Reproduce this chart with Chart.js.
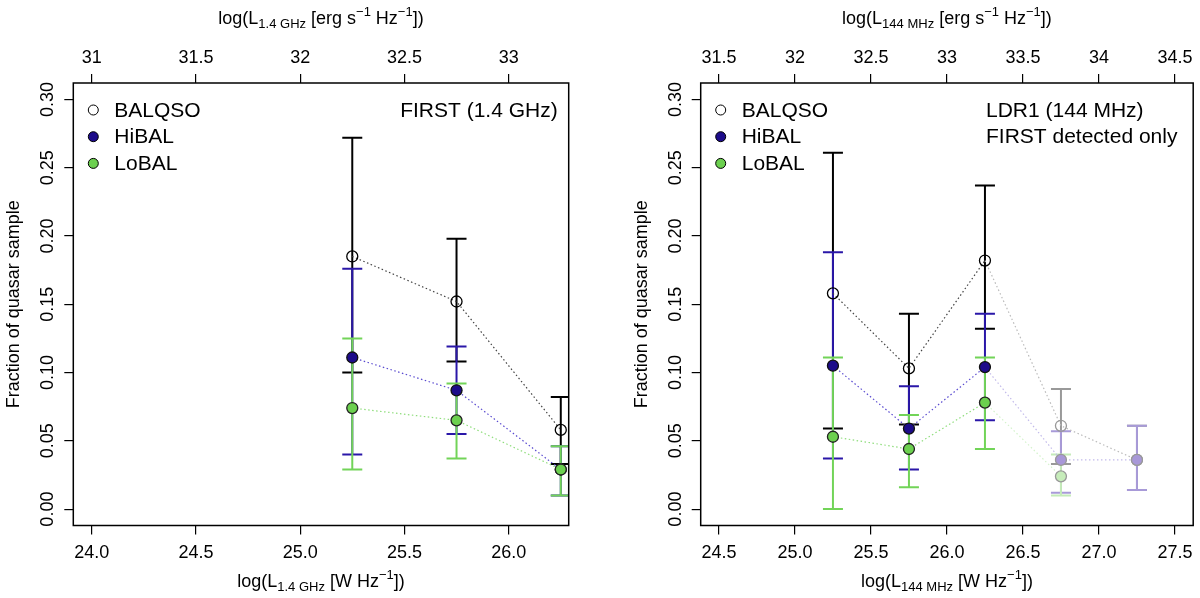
<!DOCTYPE html>
<html>
<head>
<meta charset="utf-8">
<script src="https://cdn.jsdelivr.net/npm/chart.js@4.4.1/dist/chart.umd.min.js"></script>
<style>
  html, body { margin: 0; padding: 0; background: #fff; }
  canvas { position: absolute; top: 0; }
  #first { left: 0; }
  #ldr { left: 600px; }
</style>
</head>
<body>
<canvas id="first" width="600" height="598"></canvas>
<canvas id="ldr" width="600" height="598"></canvas>
<script>
// ---- data ----
var seriesNames = ['BALQSO', 'HiBAL', 'LoBAL'];
var fracTicks = [0.00, 0.05, 0.10, 0.15, 0.20, 0.25, 0.30];

// FIRST 1.4 GHz panel
var firstBins = [25.25, 25.75, 26.25];
var firstBal = [0.185, 0.152, 0.058];
var firstBalLo = [0.100, 0.108, 0.033];
var firstBalHi = [0.272, 0.198, 0.082];
var firstHi = [0.111, 0.087, 0.029];
var firstHiLo = [0.040, 0.055, 0.010];
var firstHiHi = [0.176, 0.119, 0.046];
var firstLo = [0.074, 0.065, 0.029];
var firstLoLo = [0.029, 0.037, 0.010];
var firstLoHi = [0.125, 0.092, 0.046];
var firstTicks = [24.0, 24.5, 25.0, 25.5, 26.0];
var firstTopTicks = [31, 31.5, 32, 32.5, 33];

// LDR1 144 MHz panel (last two bins have few objects, drawn faint)
var ldrBins = [25.25, 25.75, 26.25, 26.75, 27.25];
var ldrBal = [0.158, 0.103, 0.182, 0.061, 0.036];
var ldrBalLo = [0.059, 0.062, 0.132, 0.033, 0.014];
var ldrBalHi = [0.261, 0.143, 0.237, 0.088, 0.061];
var ldrHi = [0.105, 0.059, 0.104, 0.036, 0.036];
var ldrHiLo = [0.037, 0.029, 0.065, 0.012, 0.014];
var ldrHiHi = [0.188, 0.090, 0.143, 0.057, 0.061];
var ldrLo = [0.053, 0.044, 0.078, 0.024, null];
var ldrLoLo = [0.000, 0.016, 0.044, 0.010, null];
var ldrLoHi = [0.111, 0.069, 0.111, 0.040, null];
var ldrFaint = [false, false, false, true, true];
var ldrTicks = [24.5, 25.0, 25.5, 26.0, 26.5, 27.0, 27.5];
var ldrTopTicks = [31.5, 32, 32.5, 33, 33.5, 34, 34.5];

// ---- styling ----
var FONT = '"Liberation Sans", Arial, Helvetica, sans-serif';
var styles = [
  { fill: 'rgba(0,0,0,0)', edge: '#000000', bar: '#000000', line: '#444444',
    fFill: 'rgba(0,0,0,0)', fEdge: '#999999', fBar: '#999999', fLine: '#bbbbbb', key: '#ffffff' },
  { fill: '#1d0c8a', edge: '#111111', bar: '#2a17a8', line: '#5a4bd0',
    fFill: '#a898d8', fEdge: '#999999', fBar: '#a89ad8', fLine: '#c2baea', key: '#1d0c8a' },
  { fill: '#6cd04f', edge: '#222222', bar: '#72d458', line: '#8fdd7c',
    fFill: '#c6ecba', fEdge: '#999999', fBar: '#c4ebb8', fLine: '#d4f2cc', key: '#6cd04f' }
];

function pad(range) {
  var d = (range[1] - range[0]) * 0.04;
  return [range[0] - d, range[1] + d];
}

function drawRich(ctx, parts, cx, y) {
  var total = 0;
  parts.forEach(function (p) {
    ctx.font = p.size + 'px ' + FONT;
    p.w = ctx.measureText(p.t).width;
    total += p.w;
  });
  var x = cx - total / 2;
  ctx.textAlign = 'left';
  ctx.textBaseline = 'alphabetic';
  parts.forEach(function (p) {
    ctx.font = p.size + 'px ' + FONT;
    ctx.fillText(p.t, x, y + (p.dy || 0));
    x += p.w;
  });
}

function titleParts(sub, unit) {
  var parts = [{ t: 'log(L', size: 18 }, { t: sub, size: 13, dy: 4 }];
  if (unit === 'erg') {
    parts.push({ t: ' [erg s', size: 18 }, { t: '\u22121', size: 13, dy: -8 },
               { t: ' Hz', size: 18 }, { t: '\u22121', size: 13, dy: -8 }, { t: '])', size: 18 });
  } else {
    parts.push({ t: ' [W Hz', size: 18 }, { t: '\u22121', size: 13, dy: -8 }, { t: '])', size: 18 });
  }
  return parts;
}

var rPlugin = {
  id: 'rstyle',
  beforeDatasetsDraw: function (chart) {
    var ctx = chart.ctx, xs = chart.scales.x, ys = chart.scales.y, a = chart.chartArea;
    ctx.save();
    ctx.beginPath();
    ctx.rect(a.left, a.top, a.right - a.left, a.bottom - a.top);
    ctx.clip();
    chart.data.datasets.forEach(function (ds, si) {
      var st = styles[si];
      ds.data.forEach(function (pt, i) {
        if (pt.y === null) return;
        var px = xs.getPixelForValue(pt.x);
        var yl = ys.getPixelForValue(ds.errLo[i]);
        var yh = ys.getPixelForValue(ds.errHi[i]);
        ctx.strokeStyle = ds.faint[i] ? st.fBar : st.bar;
        ctx.lineWidth = 2;
        ctx.beginPath();
        ctx.moveTo(px, yl); ctx.lineTo(px, yh);
        ctx.moveTo(px - 10, yl); ctx.lineTo(px + 10, yl);
        ctx.moveTo(px - 10, yh); ctx.lineTo(px + 10, yh);
        ctx.stroke();
      });
    });
    ctx.restore();
  },
  afterDraw: function (chart) {
    var o = chart.options.plugins.rstyle;
    var ctx = chart.ctx, a = chart.chartArea;
    var xs = chart.scales.x, x2 = chart.scales.x2, ys = chart.scales.y;
    ctx.save();
    ctx.strokeStyle = '#000';
    ctx.lineWidth = 1.5;
    ctx.strokeRect(a.left, a.top, a.right - a.left, a.bottom - a.top);

    ctx.fillStyle = '#000';
    ctx.font = '18px ' + FONT;
    ctx.textAlign = 'center';
    ctx.textBaseline = 'alphabetic';
    o.bottomTicks.forEach(function (v) {
      ctx.fillText(v.toFixed(1), xs.getPixelForValue(v), 558);
    });
    o.topTicks.forEach(function (v) {
      ctx.fillText(String(v), x2.getPixelForValue(v), 63);
    });
    fracTicks.forEach(function (v) {
      ctx.save();
      ctx.translate(a.left - 20, ys.getPixelForValue(v));
      ctx.rotate(-Math.PI / 2);
      ctx.fillText(v.toFixed(2), 0, 0);
      ctx.restore();
    });

    // axis titles
    var cx = (a.left + a.right) / 2;
    drawRich(ctx, titleParts(o.sub, 'W'), cx, 587);
    drawRich(ctx, titleParts(o.sub, 'erg'), cx, 24);
    ctx.save();
    ctx.translate(a.left - 54, (a.top + a.bottom) / 2);
    ctx.rotate(-Math.PI / 2);
    ctx.font = '18px ' + FONT;
    ctx.textAlign = 'center';
    ctx.fillText('Fraction of quasar sample', 0, 0);
    ctx.restore();

    // legend
    ctx.font = '21px ' + FONT;
    ctx.textBaseline = 'middle';
    ctx.textAlign = 'left';
    seriesNames.forEach(function (name, i) {
      var yy = a.top + 27 + i * 26.7;
      ctx.beginPath();
      ctx.arc(a.left + 20, yy, 5, 0, Math.PI * 2);
      ctx.fillStyle = styles[i].key;
      ctx.fill();
      ctx.lineWidth = 1;
      ctx.strokeStyle = '#000';
      ctx.stroke();
      ctx.fillStyle = '#000';
      ctx.fillText(name, a.left + 41, yy + 1);
    });

    // survey label
    if (o.noteAlign === 'right') {
      ctx.textAlign = 'right';
      o.note.forEach(function (t, i) { ctx.fillText(t, a.right - 11, a.top + 28 + i * 26.7); });
    } else {
      ctx.textAlign = 'left';
      o.note.forEach(function (t, i) { ctx.fillText(t, o.noteX, a.top + 28 + i * 26.7); });
    }
    ctx.restore();
  }
};

function makeSet(si, bins, vals, lo, hi, faint) {
  var st = styles[si];
  return {
    label: seriesNames[si],
    data: bins.map(function (b, i) { return { x: b, y: vals[i] }; }),
    errLo: lo, errHi: hi, faint: faint,
    order: 2 - si,
    showLine: true,
    borderWidth: 1.2,
    borderDash: [1.5, 2.5],
    borderColor: st.line,
    segment: {
      borderColor: function (c) { return faint[c.p1DataIndex] ? st.fLine : st.line; }
    },
    pointRadius: 5.5,
    pointHoverRadius: 5.5,
    pointBorderWidth: 1.3,
    pointBackgroundColor: function (c) { return faint[c.dataIndex] ? st.fFill : st.fill; },
    pointBorderColor: function (c) { return faint[c.dataIndex] ? st.fEdge : st.edge; }
  };
}

function axisTicks(list) {
  return function (s) { s.ticks = list.map(function (v) { return { value: v }; }); };
}

function makePanel(id, p) {
  var xr = pad(p.xRange), yr = pad([0, 0.3]);
  var tickGrid = { drawOnChartArea: false, drawTicks: true, tickLength: 9, color: '#000', tickColor: '#000', lineWidth: 1.2 };
  return new Chart(document.getElementById(id).getContext('2d'), {
    type: 'scatter',
    data: { datasets: p.sets },
    options: {
      responsive: false,
      animation: false,
      layout: { padding: { left: 0, right: p.padRight, top: 0, bottom: 0 } },
      scales: {
        x: { type: 'linear', position: 'bottom', min: xr[0], max: xr[1],
             afterBuildTicks: axisTicks(p.bottomTicks), afterFit: function (s) { s.height = 72.5; },
             grid: tickGrid, border: { display: false }, ticks: { display: false } },
        x2: { type: 'linear', position: 'top', min: xr[0] + 7, max: xr[1] + 7,
              afterBuildTicks: axisTicks(p.topTicks), afterFit: function (s) { s.height = 83; },
              grid: tickGrid, border: { display: false }, ticks: { display: false } },
        y: { type: 'linear', position: 'left', min: yr[0], max: yr[1],
             afterBuildTicks: axisTicks(fracTicks), afterFit: function (s) { s.width = p.left; },
             grid: tickGrid, border: { display: false }, ticks: { display: false } }
      },
      plugins: {
        legend: { display: false },
        tooltip: { enabled: false },
        rstyle: p.labels
      }
    },
    plugins: [rPlugin]
  });
}

var noFaint = [false, false, false];

makePanel('first', {
  xRange: [24.0, 26.2], left: 73.3, padRight: 31.3,
  bottomTicks: firstTicks, topTicks: firstTopTicks,
  sets: [
    makeSet(0, firstBins, firstBal, firstBalLo, firstBalHi, noFaint),
    makeSet(1, firstBins, firstHi, firstHiLo, firstHiHi, noFaint),
    makeSet(2, firstBins, firstLo, firstLoLo, firstLoHi, noFaint)
  ],
  labels: { sub: '1.4 GHz', bottomTicks: firstTicks, topTicks: firstTopTicks,
            note: ['FIRST (1.4 GHz)'], noteAlign: 'right' }
});

makePanel('ldr', {
  xRange: [24.5, 27.5], left: 100.7, padRight: 4,
  bottomTicks: ldrTicks, topTicks: ldrTopTicks,
  sets: [
    makeSet(0, ldrBins, ldrBal, ldrBalLo, ldrBalHi, ldrFaint),
    makeSet(1, ldrBins, ldrHi, ldrHiLo, ldrHiHi, ldrFaint),
    makeSet(2, ldrBins, ldrLo, ldrLoLo, ldrLoHi, ldrFaint)
  ],
  labels: { sub: '144 MHz', bottomTicks: ldrTicks, topTicks: ldrTopTicks,
            note: ['LDR1 (144 MHz)', 'FIRST detected only'], noteAlign: 'left', noteX: 386 }
});
</script>
</body>
</html>
